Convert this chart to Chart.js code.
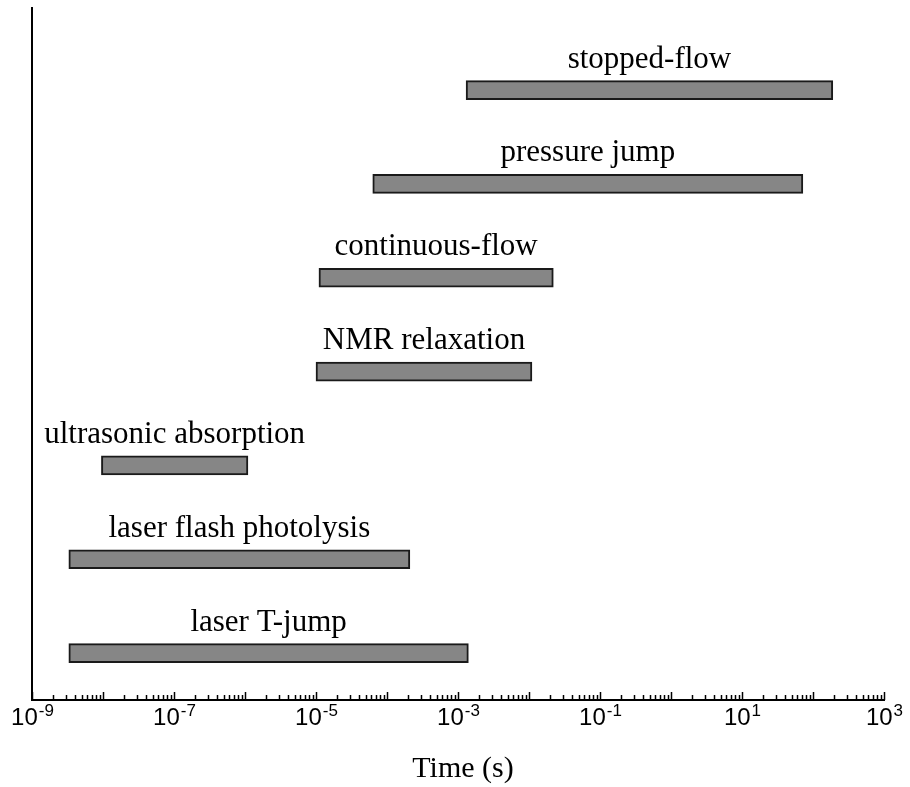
<!DOCTYPE html>
<html>
<head>
<meta charset="utf-8">
<title>Kinetic methods time ranges</title>
<script src="https://cdn.jsdelivr.net/npm/chart.js@4.4.1/dist/chart.umd.min.js"></script>
<style>
    html, body { margin: 0; padding: 0; background: #fff; }
    #chart { display: block; }
</style>
</head>
<body>
<canvas id="chart" width="910" height="787"></canvas>
<script>
// ========================================
// DATA
// ========================================

// Techniques, listed bottom to top
const methods = [
    'laser T-jump',
    'laser flash photolysis',
    'ultrasonic absorption',
    'NMR relaxation',
    'continuous-flow',
    'pressure jump',
    'stopped-flow'
];

// Accessible time range (s) for each method
const rangeStart = [3.3e-9, 3.3e-9, 9.5e-9, 1.0e-5, 1.1e-5, 6.3e-5, 1.3e-3];
const rangeEnd   = [1.4e-3, 2.1e-4, 1.1e-6, 1.1e-2, 2.2e-2, 72, 190];

// Axis decades (exponents) and which ones get a label
const decades = [-9, -8, -7, -6, -5, -4, -3, -2, -1, 0, 1, 2, 3];
const labelledDecades = [-9, -7, -5, -3, -1, 1, 3];

const AXIS_TITLE = 'Time (s)';

// ========================================
// PLUGINS
// ========================================

// Inner log ticks + superscript labels + axis title
const logAxisPlugin = {
    id: 'logAxis',
    afterDraw(chart) {
        const ctx = chart.ctx;
        const xs = chart.scales.x;
        const base = chart.chartArea.bottom;

        ctx.save();
        ctx.strokeStyle = '#000';
        ctx.lineWidth = 1.5;
        xs.ticks.forEach(t => {
            const px = Math.round(xs.getPixelForValue(t.value)) + 0.5;
            const len = t.major ? 8 : 5;
            ctx.beginPath();
            ctx.moveTo(px, base);
            ctx.lineTo(px, base - len);
            ctx.stroke();
        });

        ctx.fillStyle = '#000';
        ctx.textBaseline = 'alphabetic';
        labelledDecades.forEach(exp => {
            const px = xs.getPixelForValue(Math.pow(10, exp));
            const mainFont = '24px "Liberation Sans", Arial, sans-serif';
            const supFont = '17px "Liberation Sans", Arial, sans-serif';
            const supText = String(exp);
            ctx.font = mainFont;
            const w1 = ctx.measureText('10').width;
            ctx.font = supFont;
            const w2 = ctx.measureText(supText).width;
            const startX = px - (w1 + w2) / 2;
            ctx.textAlign = 'left';
            ctx.font = mainFont;
            ctx.fillText('10', startX, base + 25);
            ctx.font = supFont;
            ctx.fillText(supText, startX + w1 + 1, base + 16);
        });

        ctx.font = '30px "Liberation Serif", "Times New Roman", serif';
        ctx.textAlign = 'center';
        const midX = (chart.chartArea.left + chart.chartArea.right) / 2 + 5;
        ctx.fillText(AXIS_TITLE, midX, base + 77);
        ctx.restore();
    }
};

// Method names centred above each bar
const barLabelPlugin = {
    id: 'barLabels',
    afterDatasetsDraw(chart) {
        const ctx = chart.ctx;
        const meta = chart.getDatasetMeta(0);
        ctx.save();
        ctx.font = '31px "Liberation Serif", "Times New Roman", serif';
        ctx.fillStyle = '#000';
        ctx.textAlign = 'center';
        ctx.textBaseline = 'alphabetic';
        meta.data.forEach((bar, i) => {
            const cx = (bar.x + bar.base) / 2;
            const top = bar.y - bar.height / 2;
            ctx.fillText(methods[i], cx, top - 13);
        });
        ctx.restore();
    }
};

// ========================================
// CHART
// ========================================

const barData = methods.map((m, i) => ({ x: [rangeStart[i], rangeEnd[i]], y: i + 1 }));

new Chart(document.getElementById('chart'), {
    type: 'bar',
    data: {
        datasets: [{
            label: 'time range',
            data: barData,
            backgroundColor: '#868686',
            borderColor: '#1a1a1a',
            borderWidth: 2,
            borderSkipped: false,
            barThickness: 19
        }]
    },
    options: {
        indexAxis: 'y',
        responsive: false,
        animation: false,
        layout: {
            padding: { left: 32, right: 26, top: 8, bottom: 87 }
        },
        plugins: {
            legend: { display: false },
            tooltip: { enabled: false }
        },
        scales: {
            x: {
                type: 'logarithmic',
                min: 1e-9,
                max: 1e3,
                afterBuildTicks(scale) {
                    const ticks = [];
                    decades.forEach((exp, i) => {
                        ticks.push({ value: Math.pow(10, exp), major: true });
                        if (i < decades.length - 1) {
                            for (let m = 2; m <= 9; m++) {
                                ticks.push({ value: m * Math.pow(10, exp), major: false });
                            }
                        }
                    });
                    scale.ticks = ticks;
                },
                grid: { display: false, drawTicks: false },
                border: { display: true, color: '#000', width: 2 },
                ticks: { display: false }
            },
            y: {
                type: 'linear',
                offset: false,
                min: 0.5,
                max: 7.875,
                grid: { display: false, drawTicks: false },
                border: { display: true, color: '#000', width: 2 },
                ticks: { display: false }
            }
        }
    },
    plugins: [logAxisPlugin, barLabelPlugin]
});
</script>
</body>
</html>
